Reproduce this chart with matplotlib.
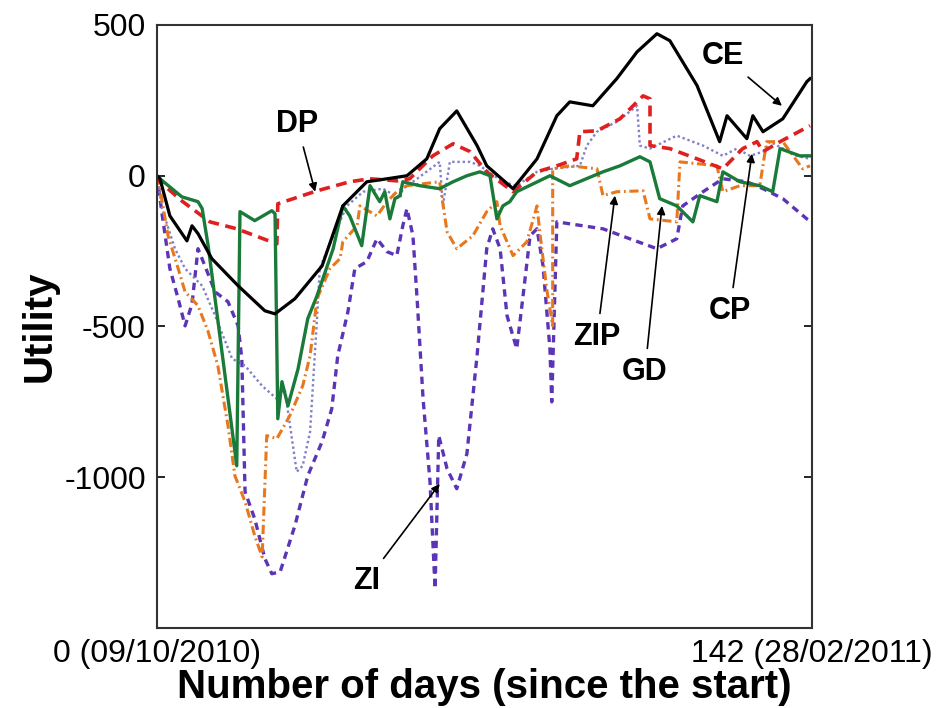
import matplotlib
matplotlib.use("Agg")
import matplotlib.pyplot as plt

plt.rcParams['font.family'] = ['Liberation Sans', 'DejaVu Sans']

# values (day, utility)
ce_day = [0, 0.65, 2.8, 6.5, 7.6, 8.9, 11.9, 17.6, 23.4, 25.6, 29.9, 35.8, 40.3, 45.5, 49.9,
          54.2, 58.5, 61.3, 65.0, 69.4, 71.5, 77.2, 82.4, 86.7, 89.5, 94.5, 99.7, 104.1,
          108.4, 111.2, 117.1, 122.0, 123.6, 127.9, 129.2, 131.4, 135.7, 140.9, 141.6]
ce_val = [0, -10, -133, -216, -166, -192, -275, -365, -448, -458, -408, -299, -100, -20, -10,
          0, 56, 156, 215, 100, 33, -43, 56, 199, 245, 232, 322, 411,
          471, 448, 299, 113, 199, 123, 199, 146, 189, 312, 322]

dp_day = [0, 0.65, 5.6, 11.5, 17.3, 26.0, 26.2, 34.7, 41.8, 46.2, 52.0, 54.8, 59.8, 64.2,
          67.9, 71.5, 77.2, 82.4, 86.7, 91.0, 91.7, 95.4, 100.4, 105.4, 106.9, 106.9,
          111.2, 117.1, 122.7, 127.0, 130.1, 131.4, 135.1, 141.6]
dp_val = [0, -20, -86, -153, -176, -226, -93, -50, -20, -10, -17, -10, 66, 106,
          80, 13, -53, 13, 33, 56, 146, 149, 189, 265, 255, 100,
          90, 56, 23, 90, 113, 80, 113, 166]

gd_day = [0, 0.65, 5.4, 8.9, 9.8, 11.1, 17.3, 18.0, 21.2, 24.9, 25.6, 26.2, 27.1, 28.4,
          30.6, 32.7, 34.7, 38.2, 40.3, 41.8, 44.4, 46.2, 48.3, 49.4, 50.5, 51.6, 52.7,
          53.3, 57.0, 61.3, 64.2, 67.2, 70.0, 72.2, 73.7, 75.0, 76.5, 78.0, 85.2, 89.5,
          96.7, 100.4, 104.7, 106.9, 109.0, 112.7, 116.2, 117.7, 121.4, 122.7, 126.4,
          130.7, 133.5, 135.1, 139.4, 141.6]
gd_val = [0, -10, -70, -86, -109, -232, -962, -119, -149, -116, -126, -806, -683, -763,
          -640, -474, -398, -242, -100, -133, -232, -33, -86, -53, -143, -76, -66,
          -20, -33, -43, -20, 0, 13, 0, -143, -100, -86, -53, 0, -33,
          13, 33, 63, 46, -76, -100, -153, -66, -86, 13, -20,
          -33, -53, 90, 66, 66]

zip_day = [0, 0.65, 2.4, 4.6, 6.1, 8.9, 11.1, 13.2, 15.4, 16.9, 19.1, 21.2, 22.8, 23.8,
           26.0, 28.8, 31.6, 33.2, 34.7, 37.5, 39.7, 40.3, 43.4, 44.0, 47.7, 49.9, 52.0,
           54.2, 61.3, 62.9, 65.0, 68.5, 71.5, 73.7, 74.4, 77.2, 80.2, 82.4, 83.0, 84.5,
           85.8, 85.8, 89.5, 95.4, 96.7, 99.7, 105.4, 106.9, 112.7, 113.4, 121.4, 122.7,
           126.4, 130.7, 132.2, 135.7, 140.0, 141.6]
zip_val = [0, -43, -199, -308, -385, -431, -517, -630, -829, -995, -1081, -1194, -1264, -862,
           -872, -796, -697, -597, -408, -308, -275, -219, -166, -100, -133, -86, -53,
           -33, -20, -186, -242, -199, -119, -86, -166, -265, -219, -100, -186, -375,
           -498, 23, 33, 23, -66, -53, -50, -143, -153, 46, 33, -53,
           -33, -33, 113, 113, 23, 33]

cp_day = [0, 1.1, 3.9, 6.1, 9.8, 12.6, 16.3, 19.1, 22.8, 26.0, 27.7, 30.3, 31.6, 33.2,
          34.7, 35.3, 38.2, 41.2, 44.7, 49.0, 52.7, 53.3, 56.4, 61.3, 62.0, 63.5, 67.9,
          70.0, 75.0, 78.0, 82.4, 85.8, 91.7, 93.2, 95.4, 99.7, 104.1, 104.7, 106.9,
          112.7, 118.4, 122.7, 125.7, 128.6, 131.4, 132.9, 138.7, 141.6]
cp_val = [0, -109, -242, -308, -365, -464, -607, -630, -697, -740, -707, -982, -962, -849,
          -474, -308, -199, -100, -53, -43, -76, -43, -10, 46, -100, 46, 46,
          33, -20, -33, 13, 23, 33, 100, 146, 179, 232, 100, 90,
          133, 100, 66, 90, 66, 80, 113, 66, 56]

zi_day = [0, 1.1, 2.8, 4.6, 6.1, 7.6, 8.9, 10.4, 12.6, 15.4, 17.6, 18.4, 19.1, 21.2, 23.4,
          24.9, 26.7, 29.9, 32.7, 35.8, 37.9, 39.2, 41.4, 42.9, 45.5, 47.7, 49.9, 52.0,
          53.3, 54.2, 55.5, 56.4, 57.7, 59.2, 60.3, 61.1, 62.9, 65.0, 67.2, 69.4, 71.5,
          72.8, 74.4, 75.9, 78.0, 79.3, 80.9, 82.4, 83.7, 85.2, 85.6, 86.7, 96.7, 102.5,
          108.4, 112.7, 114.0, 118.4, 122.7, 127.9, 131.4, 135.7, 140.9, 141.6]
zi_val = [0, -126, -308, -408, -498, -425, -242, -299, -385, -418, -498, -607, -1048, -1138, -1270,
          -1320, -1314, -1161, -995, -882, -773, -597, -451, -308, -285, -209, -252, -265,
          -166, -109, -199, -408, -740, -1015, -1370, -862, -972, -1038, -922, -597, -242,
          -176, -242, -464, -574, -408, -199, -176, -298, -574, -750, -153, -176, -209,
          -242, -209, -100, -53, -10, -20, -43, -76, -143, -150]

fig = plt.figure(figsize=(9.41, 7.08), dpi=100)
ax = fig.add_axes([0.1668, 0.113, 0.696, 0.8517])

ax.plot(zi_day, zi_val, color='#5b35b5', lw=2.4, ls=(0, (2.2, 1.6)))
ax.plot(cp_day, cp_val, color='#7f80c8', lw=1.7, ls=(0, (1, 1.2)))
ax.plot(zip_day, zip_val, color='#e8781e', lw=2.2, ls=(0, (3, 1.2, 0.6, 1.2)))
ax.plot(dp_day, dp_val, color='#e02020', lw=2.6, ls=(0, (3, 1.8)))
ax.plot(gd_day, gd_val, color='#1a7a3a', lw=2.4)
ax.plot(ce_day, ce_val, color='black', lw=2.3)

ax.set_xlim(0, 142)
ax.set_ylim(-1500, 500)
ax.set_yticks([500, 0, -500, -1000])
ax.set_yticklabels(['500', '0', '-500', '-1000'])
ax.set_xticks([0, 142])
ax.set_xticklabels(['0 (09/10/2010)', '142 (28/02/2011)'])
ax.tick_params(axis='y', direction='in', length=6, width=1.2, right=True, labelsize=23, pad=8)
ax.tick_params(axis='x', length=0, labelsize=23, pad=8)
for s in ax.spines.values():
    s.set_linewidth(1.5)
    s.set_color('#333333')

ax.set_xlabel('Number of days (since the start)', fontsize=29, fontweight='bold', labelpad=-1)
ax.set_ylabel('Utility', fontsize=29, fontweight='bold', labelpad=4)

# labels with arrows
arrow = dict(arrowstyle='-|>', color='black', lw=1.2, mutation_scale=12, shrinkA=4, shrinkB=0)
lbl = dict(fontsize=22, fontweight='bold', ha='center', va='center')
ax.annotate('DP', xy=(34.3, -53), xytext=(30.4, 172), arrowprops=arrow, **lbl)
ax.annotate('CE', xy=(135.5, 232), xytext=(122.7, 398), arrowprops=arrow, **lbl)
ax.annotate('CP', xy=(129.0, 73), xytext=(124.2, -448), arrowprops=arrow, **lbl)
ax.annotate('GD', xy=(109.5, -100), xytext=(105.8, -650), arrowprops=arrow, **lbl)
ax.annotate('ZIP', xy=(99.3, -66), xytext=(95.4, -534), arrowprops=arrow, **lbl)
ax.annotate('ZI', xy=(61.3, -1022), xytext=(45.5, -1343), arrowprops=arrow, **lbl)

fig.savefig('out.png', dpi=100)
